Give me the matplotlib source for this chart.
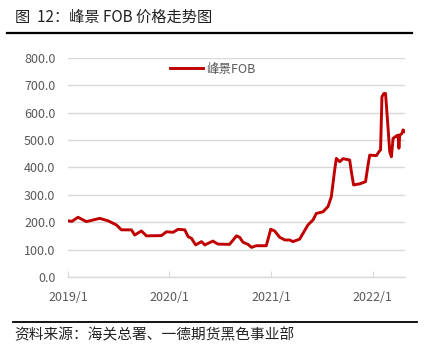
import matplotlib
matplotlib.use("Agg")
import matplotlib.pyplot as plt
import pandas as pd

plt.rcParams['font.family'] = ['Noto Sans CJK SC', 'DejaVu Sans']

# 峰景 FOB price
dates = ["2019-01-01", "2019-01-15", "2019-02-06", "2019-03-08", "2019-04-25", "2019-05-25",
         "2019-06-24", "2019-07-12", "2019-08-17", "2019-08-29", "2019-09-22", "2019-10-10",
         "2019-12-03", "2019-12-21", "2020-01-14", "2020-02-01", "2020-02-25", "2020-03-08",
         "2020-03-20", "2020-04-04", "2020-04-25", "2020-05-07", "2020-06-05", "2020-06-23",
         "2020-08-04", "2020-08-29", "2020-09-09", "2020-09-21", "2020-10-09", "2020-10-22",
         "2020-11-08", "2020-12-14", "2020-12-30", "2021-01-13", "2021-01-31", "2021-02-19",
         "2021-03-08", "2021-03-20", "2021-04-13", "2021-04-25", "2021-05-13", "2021-05-31",
         "2021-06-12", "2021-07-06", "2021-07-24", "2021-08-05", "2021-08-11", "2021-08-17",
         "2021-08-23", "2021-09-04", "2021-09-16", "2021-10-10", "2021-10-16", "2021-10-24",
         "2021-11-15", "2021-12-06", "2021-12-15", "2021-12-21", "2022-01-14", "2022-01-23",
         "2022-01-29", "2022-02-03", "2022-02-10", "2022-02-16", "2022-02-25", "2022-03-03",
         "2022-03-09", "2022-03-15", "2022-03-27", "2022-04-02", "2022-04-05", "2022-04-08",
         "2022-04-16", "2022-04-20", "2022-04-26"]
fob = [205, 203, 218, 202, 214, 205,
       190, 172, 172, 153, 168, 150,
       151, 165, 163, 174, 172, 147,
       141, 117, 129, 117, 131, 120,
       119, 150, 145, 127, 119, 108,
       114, 114, 174, 168, 145, 135,
       135, 129, 138, 159, 190, 208,
       232, 238, 257, 293, 342, 391,
       433, 421, 432, 427, 384, 336,
       340, 348, 409, 445, 443, 457,
       464, 658, 670, 670, 543, 457,
       439, 506, 515, 518, 470, 518,
       524, 537, 531]

yticks = [0, 100, 200, 300, 400, 500, 600, 700, 800]
xticks = ["2019-01-01", "2020-01-01", "2021-01-01", "2022-01-01"]
xticklabels = ["2019/1", "2020/1", "2021/1", "2022/1"]

x = pd.to_datetime(dates)

fig = plt.figure(figsize=(4.25, 3.51), dpi=100)
ax = fig.add_axes([0.16, 0.211, 0.793, 0.624])

ax.plot(x, fob, color='#C00000', lw=2.1, label='峰景FOB', solid_joinstyle='round')

ax.set_ylim(0, 800)
ax.set_yticks(yticks)
ax.set_yticklabels(['%.1f' % v for v in yticks])
ax.set_xlim(pd.Timestamp("2019-01-01"), pd.Timestamp("2022-04-27"))
ax.set_xticks(pd.to_datetime(xticks))
ax.set_xticklabels(xticklabels)

ax.grid(axis='y', color='#d9d9d9', lw=1)
ax.set_axisbelow(True)
for s in ['top', 'right', 'left']:
    ax.spines[s].set_visible(False)
ax.spines['bottom'].set_color('#d9d9d9')
ax.spines['bottom'].set_linewidth(1)
ax.tick_params(axis='y', length=0, labelsize=9, labelcolor='#595959', pad=9)
ax.tick_params(axis='x', length=4, color='#d9d9d9', direction='in', labelsize=9,
               labelcolor='#595959', pad=10)

ax.legend(loc='upper center', bbox_to_anchor=(0.43, 1.03), frameon=False, fontsize=9,
          handlelength=2.6, handletextpad=0.3, labelcolor='#595959')

# title and source
fig.text(0.035, 0.952, '图  12：峰景 FOB 价格走势图', fontsize=11, color='#222222',
         va='center', ha='left')
fig.add_artist(plt.Line2D([0.017, 0.97], [0.906, 0.906], color='black', lw=1.6,
                          transform=fig.transFigure))
fig.add_artist(plt.Line2D([0.03, 0.982], [0.083, 0.083], color='black', lw=1.3,
                          transform=fig.transFigure))
fig.text(0.033, 0.045, '资料来源：海关总署、一德期货黑色事业部', fontsize=10.6, color='#222222',
         va='center', ha='left')

fig.savefig('out.png', dpi=100)
